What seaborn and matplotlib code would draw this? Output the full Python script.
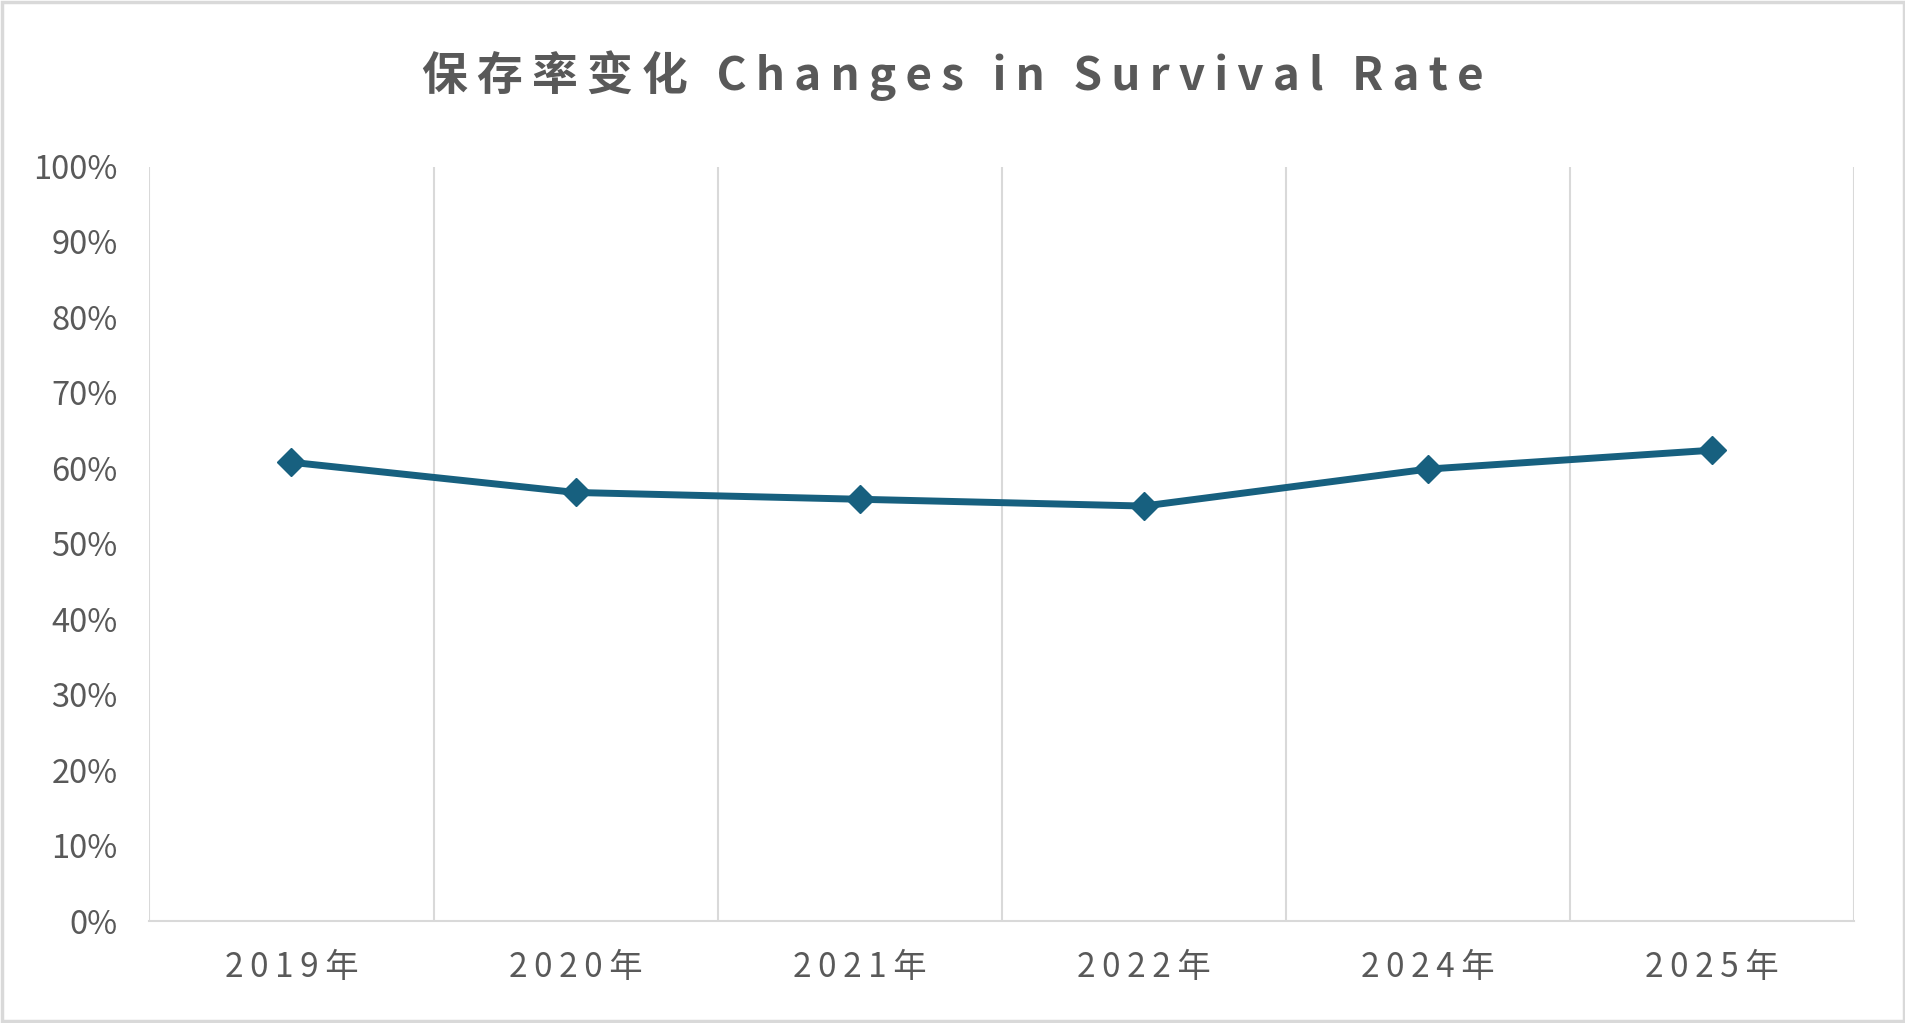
import numpy as np
import pandas as pd
import matplotlib
matplotlib.use("Agg")
import matplotlib.pyplot as plt
from matplotlib.patches import Rectangle
import seaborn as sns

# 数据
years = ["2019年", "2020年", "2021年", "2022年", "2024年", "2025年"]
survival_rate = [0.608, 0.568, 0.559, 0.550, 0.599, 0.624]

title_text = "保存率变化 Changes in Survival Rate"
line_color = "#17607F"
text_color = "#595959"
grid_color = "#D9D9D9"

sns.set_theme(style="white")
plt.rcParams['font.family'] = ['Noto Sans CJK SC', 'DejaVu Sans']

THIN = "\u2009"


def spaced(s):
    # 模拟字间距
    return THIN.join(list(s))


df = pd.DataFrame({"year": years, "rate": survival_rate})

fig = plt.figure(figsize=(19.06, 10.23), dpi=100)
ax = fig.add_axes([0.0784, 0.0997, 0.9727 - 0.0784, 0.8372 - 0.0997])

sns.lineplot(data=df, x="year", y="rate", ax=ax, sort=False,
             color=line_color, linewidth=5, marker="D", markersize=14,
             markeredgecolor=line_color, markeredgewidth=1, zorder=5)

ax.set_xlim(-0.5, len(years) - 0.5)
ax.set_ylim(0, 1)
ax.set_yticks(np.arange(0, 1.01, 0.1))
ax.set_yticklabels([f"{int(round(v * 100))}%" for v in np.arange(0, 1.01, 0.1)])
ax.set_xticks(range(len(years)))
ax.set_xticklabels([spaced(y) for y in years])
ax.set_xticks(np.arange(-0.5, len(years)), minor=True)

ax.grid(False)
ax.grid(which="minor", axis="x", color=grid_color, linewidth=1.5)
ax.tick_params(axis="both", which="both", length=0)
ax.tick_params(axis="y", labelsize=23.5, labelcolor=text_color, pad=23)
ax.tick_params(axis="x", labelsize=24, labelcolor=text_color, pad=21)

for side in ["left", "right", "top"]:
    ax.spines[side].set_visible(False)
ax.spines["bottom"].set_color(grid_color)
ax.spines["bottom"].set_linewidth(1.5)
ax.set_xlabel("")
ax.set_ylabel("")

fig.text(0.5, 0.926, spaced(title_text), ha="center", va="center",
         fontsize=33, fontweight="bold", color=text_color)

# 外框
fig.patches.append(Rectangle((0.0008, 0.0015), 0.9984, 0.997, transform=fig.transFigure,
                             fill=False, edgecolor=grid_color, linewidth=2.5))

fig.savefig("out.png", dpi=100)
